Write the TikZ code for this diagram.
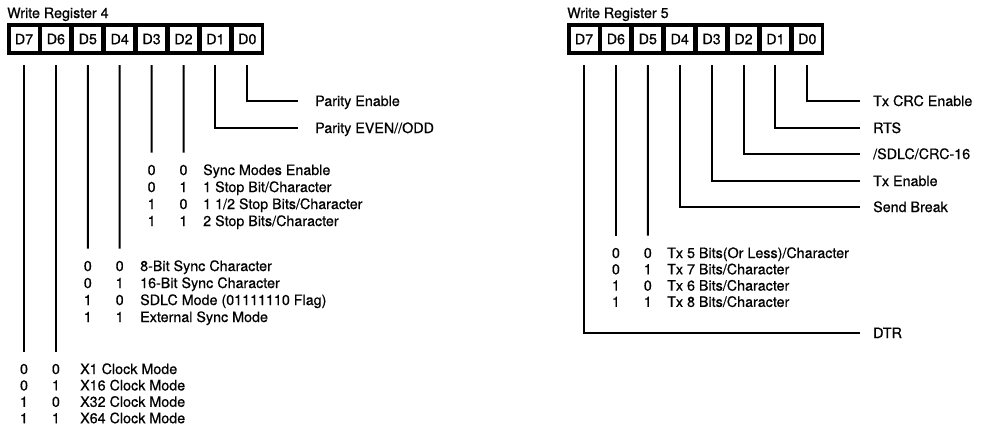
\documentclass[tikz,border=0pt]{standalone}
\usepackage{fontspec}
\setmainfont{TeX Gyre Heros}[FakeBold=0.6]
\begin{document}
\begin{tikzpicture}[x=1pt, y=-1pt,
    every node/.style={font=\fontsize{14.3}{16}\selectfont, inner sep=0pt},
    cell/.style={fill=white, minimum width=27pt, minimum height=24pt},
    bit/.style={anchor=base},
    lbl/.style={anchor=base west, text height=10pt, text depth=0pt},
    wire/.style={line width=2pt, shorten <=14pt}]
  \useasboundingbox (0,0) rectangle (985,429);
  % register boxes
  \foreach \r/\ox in {4/0, 5/560}{
    \node[anchor=base west] (title\r) at (7+\ox,18) {Write Register \r};
    \fill (7+\ox,23) rectangle (264+\ox,55);
    \foreach \b [count=\i from 0] in {7,6,5,4,3,2,1,0}
      \node[cell] (w\r-d\b) at (24+31.9*\i+\ox,39) {D\b};
  }
  % WR4 single bits
  \node[lbl] (parEn) at (315,106) {Parity Enable};
  \node[lbl] (parEO) at (315,133) {Parity EVEN//ODD};
  \draw[wire, shorten >=17pt] (w4-d0) |- (parEn);
  \draw[wire, shorten >=17pt] (w4-d1) |- (parEO);
  % WR4 stop bits
  \foreach \a/\b/\txt [count=\k from 0] in {0/0/Sync Modes Enable,
      0/1/{1 Stop Bit/Character}, 1/0/{1 1/2 Stop Bits/Character},
      1/1/{2 Stop Bits/Character}}{
    \node[bit] (stA\k) at (151.6,175+17*\k) {\a};
    \node[bit] (stB\k) at (183.5,175+17*\k) {\b};
    \node[lbl] (stT\k) at (203,175+17*\k) {\txt};
  }
  \draw[wire, shorten >=12pt] (w4-d3) -- (stA0);
  \draw[wire, shorten >=12pt] (w4-d2) -- (stB0);
  % WR4 sync modes
  \foreach \a/\b/\txt [count=\k from 0] in {0/0/8-Bit Sync Character,
      0/1/16-Bit Sync Character, 1/0/SDLC Mode (01111110 Flag),
      1/1/External Sync Mode}{
    \node[bit] (syA\k) at (87.8,271+17*\k) {\a};
    \node[bit] (syB\k) at (119.7,271+17*\k) {\b};
    \node[lbl] (syT\k) at (140,271+17*\k) {\txt};
  }
  \draw[wire, shorten >=12pt] (w4-d5) -- (syA0);
  \draw[wire, shorten >=12pt] (w4-d4) -- (syB0);
  % WR4 clock modes
  \foreach \a/\b/\txt [count=\k from 0] in {0/0/X1 Clock Mode,
      0/1/X16 Clock Mode, 1/0/X32 Clock Mode, 1/1/X64 Clock Mode}{
    \node[bit] (ckA\k) at (24,374+16.4*\k) {\a};
    \node[bit] (ckB\k) at (55.9,374+16.4*\k) {\b};
    \node[lbl] (ckT\k) at (80,374+16.4*\k) {\txt};
  }
  \draw[wire, shorten >=12pt] (w4-d7) -- (ckA0);
  \draw[wire, shorten >=12pt] (w4-d6) -- (ckB0);
  % WR5 single bits
  \foreach \b/\yy/\txt in {0/106/Tx CRC Enable, 1/133/RTS, 2/159/{/SDLC/CRC-16},
      3/186/Tx Enable, 4/212/Send Break, 7/338/DTR}{
    \node[lbl] (txL\b) at (873,\yy) {\txt};
    \draw[wire, shorten >=13pt] (w5-d\b) |- (txL\b);
  }
  % WR5 char length
  \foreach \a/\b/\txt [count=\k from 0] in {0/0/{Tx 5 Bits(Or Less)/Character},
      0/1/{Tx 7 Bits/Character}, 1/0/{Tx 6 Bits/Character},
      1/1/{Tx 8 Bits/Character}}{
    \node[bit] (chA\k) at (615.9,258+16.3*\k) {\a};
    \node[bit] (chB\k) at (647.8,258+16.3*\k) {\b};
    \node[lbl] (chT\k) at (667,258+16.3*\k) {\txt};
  }
  \draw[wire, shorten >=12pt] (w5-d6) -- (chA0);
  \draw[wire, shorten >=12pt] (w5-d5) -- (chB0);
\end{tikzpicture}
\end{document}
